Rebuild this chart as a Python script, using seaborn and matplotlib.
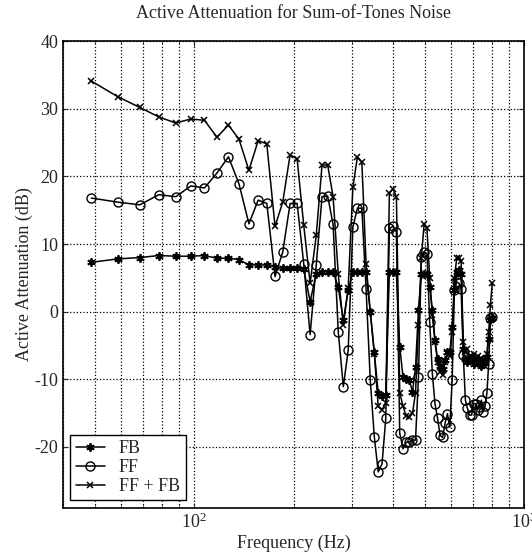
import numpy as np
import pandas as pd
import seaborn as sns
import matplotlib
matplotlib.use("Agg")
import matplotlib.pyplot as plt
from matplotlib.ticker import LogLocator, NullFormatter

sns.set_style("ticks")
plt.rcParams['font.family'] = ['Liberation Serif', 'DejaVu Serif']
plt.rcParams['mathtext.fontset'] = 'stix'
plt.rcParams['axes.unicode_minus'] = False

# frequencias dos tons (Hz)
freq = [48.8, 58.6, 68.4, 78.1, 87.9, 97.7, 107.4, 117.2, 127.0, 136.7,
        146.5, 156.3, 166.0, 175.8, 185.5, 195.3, 205.1, 214.8, 224.6, 234.4,
        244.1, 253.9, 263.7, 273.4, 283.2, 293.0, 302.7, 312.5, 322.3, 332.0,
        341.8, 351.6, 361.3, 371.1, 380.9, 390.6, 400.4, 410.2, 419.9, 429.7,
        439.5, 449.2, 459.0, 468.8, 478.5, 488.3, 498.0, 507.8, 517.6, 527.3,
        537.1, 546.9, 556.6, 566.4, 576.2, 585.9, 595.7, 605.5, 615.2, 625.0,
        634.8, 644.5, 654.3, 664.1, 673.8, 683.6, 693.4, 703.1, 712.9, 722.7,
        732.4, 742.2, 752.0, 761.7, 771.5, 781.3, 791.0, 800.8]

fb = [7.3, 7.8, 8.0, 8.3, 8.2, 8.2, 8.3, 7.9, 7.9, 7.7,
      6.9, 6.9, 6.9, 6.6, 6.4, 6.4, 6.4, 6.3, 1.5, 5.6,
      5.9, 5.9, 5.9, 3.6, -1.3, 3.2, 5.9, 5.9, 5.9, 5.8,
      0.0, -6.0, -12.0, -12.5, -12.3, 5.9, 5.9, 5.9, -5.2, -9.7,
      -10.0, -10.1, -11.9, -8.2, 0.2, 5.6, 5.6, 5.6, 3.6, 0.2,
      -4.2, -7.0, -8.0, -8.5, -7.2, -6.0, -6.0, -2.3, 3.2, 5.8,
      6.2, 5.5, -5.5, -7.0, -7.5, -6.8, -7.2, -7.8, -7.4, -7.0,
      -7.6, -8.0, -7.4, -7.6, -6.7, -4.0, -1.3, -1.0]

ff = [16.8, 16.2, 15.8, 17.3, 17.0, 18.6, 18.3, 20.5, 22.9, 18.9,
      13.0, 16.5, 16.0, 5.2, 8.8, 16.0, 16.0, 7.1, -3.4, 6.9,
      17.0, 17.1, 12.9, -3.0, -11.1, -5.7, 12.5, 15.3, 15.3, 3.3,
      -10.1, -18.5, -23.7, -22.5, -15.8, 12.3, 12.6, 11.8, -18.0, -20.3,
      -19.3, -19.3, -19.0, -19.0, -9.7, 8.1, 8.8, 8.6, -1.5, -9.2,
      -13.6, -15.8, -18.3, -18.6, -16.5, -15.1, -17.1, -10.1, 3.2, 4.4,
      4.2, 3.4, -6.4, -13.1, -14.3, -15.3, -15.3, -13.6, -13.6, -14.5,
      -14.1, -13.1, -14.8, -14.0, -12.1, -7.7, -1.0, -0.8]

ff_fb = [34.1, 31.8, 30.2, 28.8, 27.9, 28.5, 28.3, 25.8, 27.6, 25.5,
         20.9, 25.3, 24.8, 12.6, 16.2, 23.2, 22.6, 12.8, 4.2, 11.3,
         21.7, 21.7, 17.0, 5.5, -2.0, 3.5, 18.4, 22.9, 22.1, 7.1,
         0.0, -6.2, -14.0, -14.5, -13.5, 17.5, 18.2, 17.0, -12.0, -14.0,
         -15.5, -15.6, -15.0, -12.0, -2.0, 8.0, 13.0, 12.3, 5.0, -0.5,
         -4.5, -7.5, -9.0, -9.3, -7.5, -6.0, -6.5, -3.0, 5.0, 7.9,
         8.0, 7.5, -4.5, -6.0, -5.5, -6.5, -6.8, -6.2, -7.0, -6.5,
         -7.3, -6.8, -7.5, -7.0, -6.2, -3.0, 1.0, 4.2]

df = pd.DataFrame({'freq': freq, 'FB': fb, 'FF': ff, 'FF + FB': ff_fb})

fig = plt.figure(figsize=(5.32, 5.57), dpi=100)
ax = fig.add_axes([0.1184, 0.0885, 0.8666, 0.8375])

sns.lineplot(data=df, x='freq', y='FB', ax=ax, color='k', lw=1.1,
             marker=(6, 2, 0), ms=6, mec='k', mew=1.3, label='FB')
sns.lineplot(data=df, x='freq', y='FF', ax=ax, color='k', lw=1.1,
             marker='o', ms=6.5, mfc='none', mec='k', mew=1.0, label='FF')
sns.lineplot(data=df, x='freq', y='FF + FB', ax=ax, color='k', lw=1.1,
             marker='x', ms=5, mec='k', mew=1.1, label='FF + FB')

ax.set_xscale('log')
ax.set_xlim(40, 1000)
ax.set_ylim(-29, 40)
ax.set_yticks([-20, -10, 0, 10, 20, 30, 40])
ax.xaxis.set_major_locator(LogLocator(base=10))
ax.xaxis.set_minor_locator(LogLocator(base=10, subs=np.arange(2, 10)))
ax.xaxis.set_minor_formatter(NullFormatter())

ax.grid(True, which='major', axis='both', color='k', ls=':', lw=0.9)
ax.grid(True, which='minor', axis='x', color='k', ls=':', lw=0.9)

ax.tick_params(which='both', direction='in', top=True, right=True, labelsize=13)
for s in ax.spines.values():
    s.set_linewidth(1.2)
    s.set_color('k')

ax.set_title('Active Attenuation for Sum-of-Tones Noise', fontsize=13, pad=17)
ax.set_xlabel('Frequency (Hz)', fontsize=13, labelpad=2)
ax.set_ylabel('Active Attenuation (dB)', fontsize=13, labelpad=1)

leg = ax.legend(loc='lower left', fontsize=13, frameon=True, fancybox=False,
                edgecolor='k', framealpha=1, borderaxespad=0.4,
                handlelength=1.6, labelspacing=0.1, borderpad=0.3)
leg.get_frame().set_linewidth(1.0)

plt.savefig('out.png', dpi=100)
